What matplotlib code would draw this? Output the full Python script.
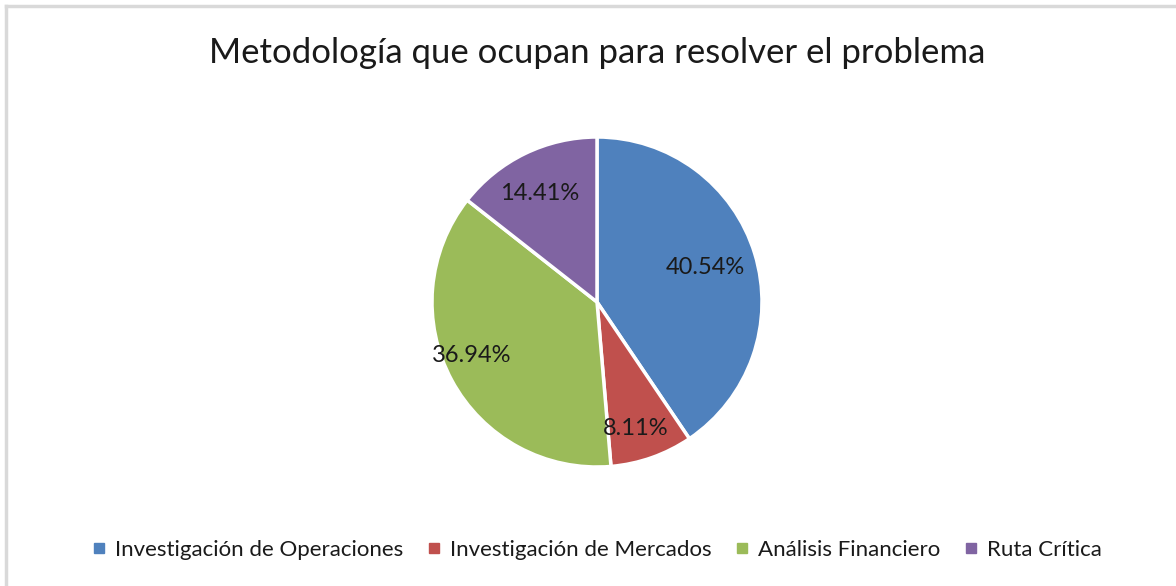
import matplotlib
matplotlib.use("Agg")
import matplotlib.pyplot as plt
from matplotlib.lines import Line2D
import numpy as np

labels = ["Investigación de Operaciones", "Investigación de Mercados",
          "Análisis Financiero", "Ruta Crítica"]
values = [40.54, 8.11, 36.94, 14.41]
colors = ["#4F81BD", "#C0504D", "#9BBB59", "#8064A2"]
# label placement (fraction of radius, angle shift in degrees from slice middle)
label_dist = [0.687, 0.80, 0.825, 0.743]
label_shift = [0.7, -2.3, -5.0, 1.8]

plt.rcParams['font.family'] = ['Lato', 'DejaVu Sans']

W, H = 1176, 586
fig = plt.figure(figsize=(W / 100, H / 100), dpi=100)

# light gray frame (top and left edges visible)
fig.add_artist(Line2D([6 / W, 1], [1 - 6 / H, 1 - 6 / H], color="#d9d9d9", lw=2.5))
fig.add_artist(Line2D([6 / W, 6 / W], [0, 1 - 6 / H], color="#d9d9d9", lw=2.5))

cx, cy, r = 597, 302, 165
ax = fig.add_axes([(cx - r) / W, (H - cy - r) / H, 2 * r / W, 2 * r / H])
wedges, _ = ax.pie(values, colors=colors, startangle=90, counterclock=False,
                   wedgeprops=dict(edgecolor="white", linewidth=2.5))
ax.set_xlim(-1, 1)
ax.set_ylim(-1, 1)
ax.axis("off")

for w, v, d, s in zip(wedges, values, label_dist, label_shift):
    ang = np.deg2rad((w.theta1 + w.theta2) / 2 + s)
    ax.text(d * np.cos(ang), d * np.sin(ang), f"{v:.2f}%", ha="center", va="center",
            fontsize=17, color="#1a1a1a")

fig.text(cx / W, 1 - 53 / H, "Metodología que ocupan para resolver el problema",
         ha="center", va="center", fontsize=25, color="#1a1a1a")

handles = [Line2D([], [], marker="s", ls="none", color=c, markersize=7) for c in colors]
fig.legend(handles, labels, loc="center", bbox_to_anchor=(cx / W, 1 - 550 / H), ncol=4,
           frameon=False, fontsize=16, handlelength=0.6, handletextpad=0.4,
           columnspacing=1.1, labelcolor="#1a1a1a")

fig.savefig("out.png", dpi=100, facecolor="white")
